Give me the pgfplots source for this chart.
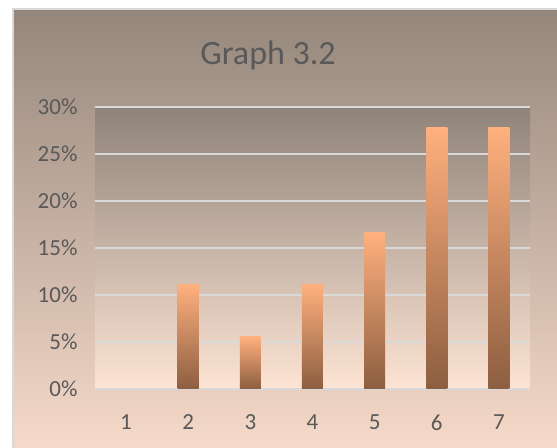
\documentclass[border=0pt]{standalone}
\usepackage{pgfplots}
\pgfplotsset{compat=1.18}
\usepackage{fontspec}
\setmainfont{Carlito}

\definecolor{chartTop}{RGB}{148,134,123}
\definecolor{chartBot}{RGB}{246,218,201}
\definecolor{plotTop}{RGB}{143,131,121}
\definecolor{plotBot}{RGB}{253,228,212}
\definecolor{barTop}{RGB}{255,176,126}
\definecolor{barBot}{RGB}{140,94,64}
\definecolor{gridGray}{RGB}{217,217,217}
\definecolor{textGray}{RGB}{89,89,89}

\begin{document}
\begin{tikzpicture}
  \useasboundingbox (0,0) rectangle (557bp,448bp);
  \clip (0,0) rectangle (557bp,448bp);
  % page and chart area
  \fill[white] (0,0) rectangle (557bp,448bp);
  \shade[top color=chartTop, bottom color=chartBot] (13bp,0) rectangle (557bp,439bp);
  \draw[gridGray, line width=1.5bp] (13bp,0) -- (13bp,439bp) -- (557bp,439bp);
  % plot area
  \shade[top color=plotTop, bottom color=plotBot] (95bp,59bp) rectangle (530bp,341bp);
  % title
  \node[anchor=base, text=textGray, font=\fontsize{34bp}{40bp}\selectfont] at (268bp,383bp) {Graph 3.2};

  \begin{axis}[
    at={(95bp,59bp)}, anchor=south west,
    scale only axis, width=435bp, height=282bp,
    xmin=0.5, xmax=7.5, ymin=0, ymax=30,
    xtick={1,...,7}, ytick={0,5,...,30},
    yticklabel={\pgfmathprintnumber{\tick}\%},
    /pgf/number format/assume math mode=true,
    ticklabel style={text=textGray, font=\fontsize{23bp}{27bp}\selectfont},
    yticklabel style={xshift=-14bp},
    xticklabel style={yshift=-22bp},
    major tick length=0pt,
    axis line style={draw=none},
    ymajorgrids, major grid style={gridGray, line width=1.5bp},
    clip=false,
    % one plot per bar, so every bar carries its own gradient
    gradbar/.style={ybar, bar width=21bp, bar shift=0pt, mark=none,
      draw=none, top color=barTop, bottom color=barBot},
  ]
    % category 1 has a share of 0%
    \addplot[gradbar] coordinates {(2,11.11)};
    \addplot[gradbar] coordinates {(3,5.56)};
    \addplot[gradbar] coordinates {(4,11.11)};
    \addplot[gradbar] coordinates {(5,16.67)};
    \addplot[gradbar] coordinates {(6,27.78)};
    \addplot[gradbar] coordinates {(7,27.78)};
  \end{axis}
\end{tikzpicture}
\end{document}
